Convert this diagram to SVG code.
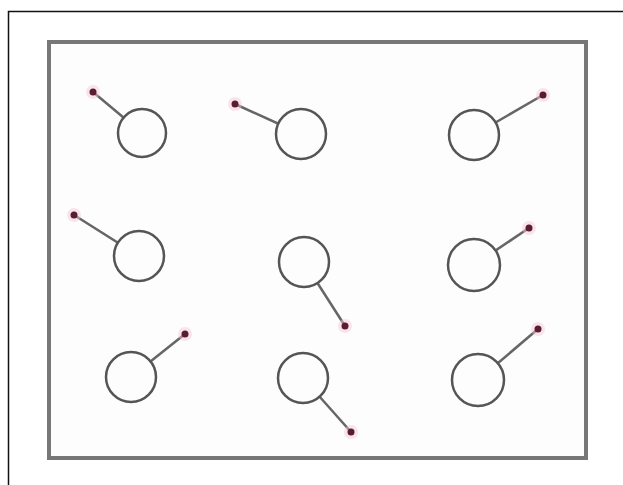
<svg xmlns="http://www.w3.org/2000/svg" width="623" height="485" viewBox="0 0 623 485">
<style>
.ring{fill:#fdfdfd;stroke:#555;stroke-width:2.5}
.stick{stroke:#666;stroke-width:2.5;stroke-linecap:round}
.dot{fill:#5a1d2e}
.halo{fill:#f3c6d4;opacity:0.45}
</style>
<rect x="0" y="0" width="623" height="485" fill="#fff"/>
<rect x="8.5" y="11.5" width="620" height="480" fill="#fff" stroke="#111" stroke-width="1.5"/>
<rect x="49" y="42" width="537" height="416" fill="#fdfdfd" stroke="#777" stroke-width="4"/>
<g id="connectors">
<line class="stick" x1="93" y1="92" x2="142" y2="133"/>
<line class="stick" x1="235" y1="104" x2="301" y2="134"/>
<line class="stick" x1="543" y1="95" x2="474" y2="135"/>
<line class="stick" x1="74" y1="215" x2="139" y2="256"/>
<line class="stick" x1="345" y1="326" x2="304" y2="262"/>
<line class="stick" x1="529" y1="228" x2="474" y2="265"/>
<line class="stick" x1="185" y1="334" x2="131" y2="377"/>
<line class="stick" x1="351" y1="432" x2="303" y2="378"/>
<line class="stick" x1="538" y1="329" x2="478" y2="380"/>
</g>
<g id="n1"><circle class="ring" cx="142" cy="133" r="24"/><circle class="halo" cx="93" cy="92" r="7"/><circle class="dot" cx="93" cy="92" r="3.5"/></g>
<g id="n2"><circle class="ring" cx="301" cy="134" r="25"/><circle class="halo" cx="235" cy="104" r="7"/><circle class="dot" cx="235" cy="104" r="3.5"/></g>
<g id="n3"><circle class="ring" cx="474" cy="135" r="25"/><circle class="halo" cx="543" cy="95" r="7"/><circle class="dot" cx="543" cy="95" r="3.5"/></g>
<g id="n4"><circle class="ring" cx="139" cy="256" r="25"/><circle class="halo" cx="74" cy="215" r="7"/><circle class="dot" cx="74" cy="215" r="3.5"/></g>
<g id="n5"><circle class="ring" cx="304" cy="262" r="25"/><circle class="halo" cx="345" cy="326" r="7"/><circle class="dot" cx="345" cy="326" r="3.5"/></g>
<g id="n6"><circle class="ring" cx="474" cy="265" r="26"/><circle class="halo" cx="529" cy="228" r="7"/><circle class="dot" cx="529" cy="228" r="3.5"/></g>
<g id="n7"><circle class="ring" cx="131" cy="377" r="25"/><circle class="halo" cx="185" cy="334" r="7"/><circle class="dot" cx="185" cy="334" r="3.5"/></g>
<g id="n8"><circle class="ring" cx="303" cy="378" r="25"/><circle class="halo" cx="351" cy="432" r="7"/><circle class="dot" cx="351" cy="432" r="3.5"/></g>
<g id="n9"><circle class="ring" cx="478" cy="380" r="26"/><circle class="halo" cx="538" cy="329" r="7"/><circle class="dot" cx="538" cy="329" r="3.5"/></g>
</svg>
